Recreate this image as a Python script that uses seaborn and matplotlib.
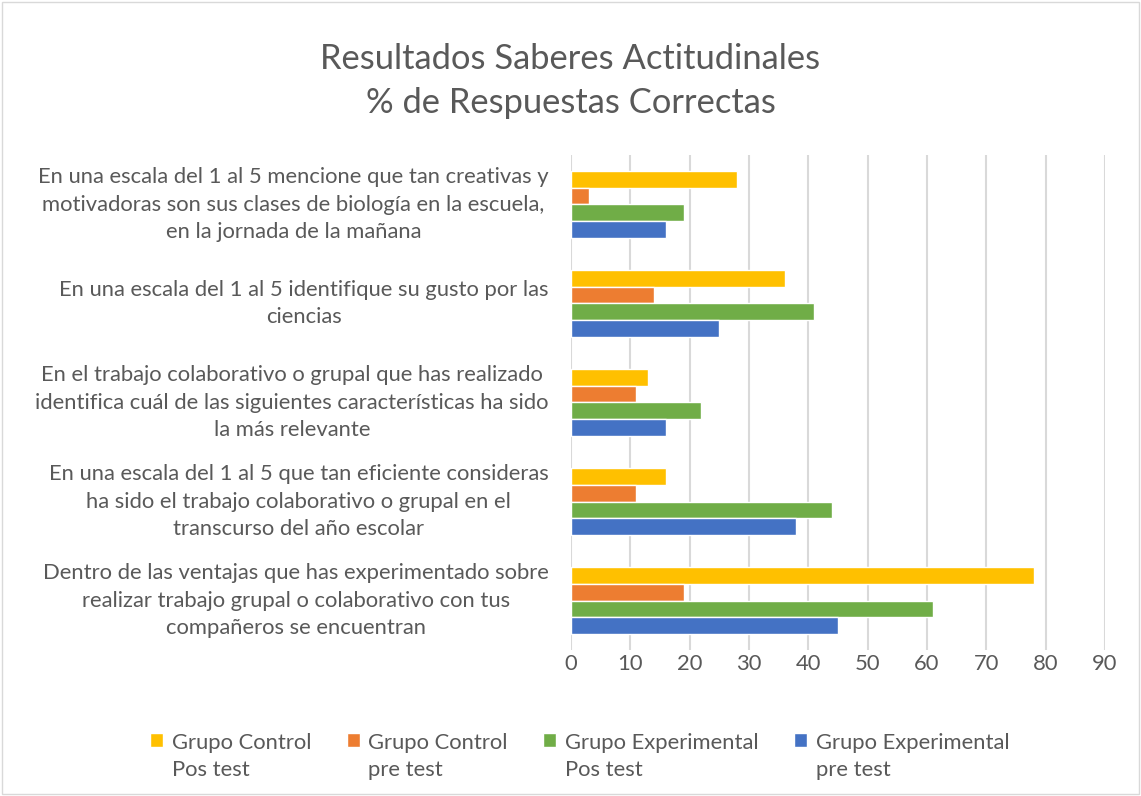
import pandas as pd
import matplotlib.pyplot as plt
import matplotlib.transforms as mtransforms
from matplotlib.legend_handler import HandlerPatch
import seaborn as sns

# data (top to bottom)
categories = [
    "En una escala del 1 al 5 mencione que tan creativas y\nmotivadoras son sus clases de biología en la escuela,\nen la jornada de la mañana",
    "En una escala del 1 al 5 identifique su gusto por las\nciencias",
    "En el trabajo colaborativo o grupal que has realizado\nidentifica cuál de las siguientes características ha sido\nla más relevante",
    "En una escala del 1 al 5 que tan eficiente consideras\nha sido el trabajo colaborativo o grupal en el\ntranscurso del año escolar",
    "Dentro de las ventajas que has experimentado sobre\nrealizar trabajo grupal o colaborativo con tus\ncompañeros se encuentran",
]
series = ["Grupo Control\nPos test", "Grupo Control\npre test",
          "Grupo Experimental\nPos test", "Grupo Experimental\npre test"]
control_pos = [28, 36, 13, 16, 78]
control_pre = [3, 14, 11, 11, 19]
exper_pos = [19, 41, 22, 44, 61]
exper_pre = [16, 25, 16, 38, 45]
colors = ["#FFC000", "#ED7D31", "#70AD47", "#4472C4"]

rows = []
for s, vals in zip(series, [control_pos, control_pre, exper_pos, exper_pre]):
    for c, v in zip(categories, vals):
        rows.append({"pregunta": c, "grupo": s, "valor": v})
df = pd.DataFrame(rows)

sns.set_theme(style="white")
plt.rcParams['font.family'] = ['Lato', 'DejaVu Sans']
txt = "#595959"
fs = 15.8

fig = plt.figure(figsize=(11.41, 7.96), dpi=100)
ax = fig.add_axes([0.5004, 0.1834, 0.468, 0.6219])

sns.barplot(data=df, y="pregunta", x="valor", hue="grupo", order=categories,
            hue_order=series, palette=colors, orient="h", width=0.68, gap=0,
            saturation=1, ax=ax, legend=True)

ax.set_xlim(0, 90)
ax.set_xticks(range(0, 91, 10))
ax.grid(axis="x", color="#d9d9d9", linewidth=1.5)
ax.set_axisbelow(True)
for s in ax.spines.values():
    s.set_visible(False)
ax.set_xlabel("")
ax.set_ylabel("")
ax.tick_params(axis="both", length=0, labelsize=fs, labelcolor=txt)
ax.tick_params(axis="x", pad=3)
ax.tick_params(axis="y", pad=16)
# labels sit a little above the middle of each bar group
shift = mtransforms.ScaledTranslation(0, 4 / 72, fig.dpi_scale_trans)
for lab in ax.get_yticklabels():
    lab.set_multialignment("center")
    lab.set_linespacing(1.45)
    lab.set_transform(lab.get_transform() + shift)


# square marker sits next to the first line of the label
def top_square(legend, orig_handle, xdescent, ydescent, width, height, fontsize):
    return plt.Rectangle((-xdescent, -ydescent + fontsize * 0.75), width, height)


handles, labels = ax.get_legend_handles_labels()
ax.legend_.remove()
leg = fig.legend(handles, labels, loc="lower center", bbox_to_anchor=(0.508, -0.005),
                 ncol=4, frameon=False, fontsize=fs, handlelength=0.6,
                 handleheight=0.6, handletextpad=0.4, columnspacing=1.6,
                 handler_map={h: HandlerPatch(patch_func=top_square) for h in handles})
for t in leg.get_texts():
    t.set_color(txt)
    t.set_linespacing(1.45)

fig.suptitle("Resultados Saberes Actitudinales\n% de Respuestas Correctas",
             y=0.946, fontsize=24.8, color=txt, linespacing=1.45)

fig.patches.append(plt.Rectangle((0.002, 0.002), 0.996, 0.996, transform=fig.transFigure,
                                 fill=False, edgecolor="#d9d9d9", linewidth=1))

fig.savefig("out.png", dpi=100)
